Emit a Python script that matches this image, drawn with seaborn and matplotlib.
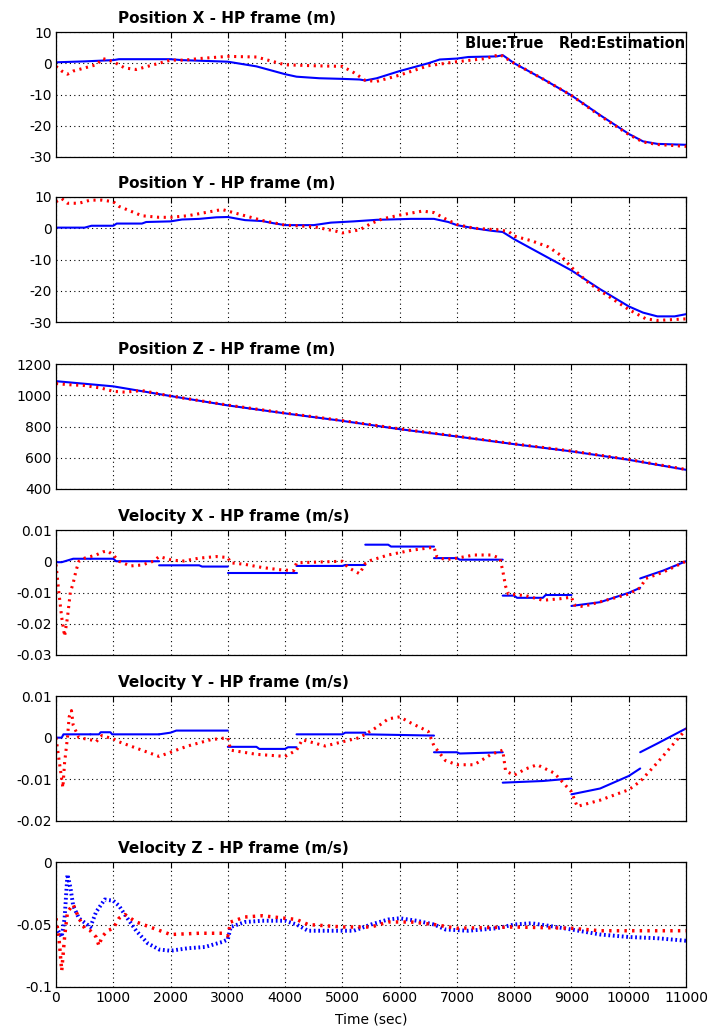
import numpy as np
import pandas as pd
import matplotlib
matplotlib.use("Agg")
import matplotlib.pyplot as plt
import seaborn as sns

# ---------------- data ----------------
TIME_TICKS = [0, 1000, 2000, 3000, 4000, 5000, 6000, 7000, 8000, 9000, 10000, 11000]
TITLES = ["Position X - HP frame (m)", "Position Y - HP frame (m)", "Position Z - HP frame (m)",
          "Velocity X - HP frame (m/s)", "Velocity Y - HP frame (m/s)", "Velocity Z - HP frame (m/s)"]
LEGEND_TEXT = "Blue:True   Red:Estimation"
X_LABEL = "Time (sec)"

Y_TICKS = [[-30, -20, -10, 0, 10], [-30, -20, -10, 0, 10], [400, 600, 800, 1000, 1200],
           [-0.03, -0.02, -0.01, 0, 0.01], [-0.02, -0.01, 0, 0.01], [-0.1, -0.05, 0]]
Y_TICK_LABELS = [["-30", "-20", "-10", "0", "10"], ["-30", "-20", "-10", "0", "10"],
                 ["400", "600", "800", "1000", "1200"],
                 ["-0.03", "-0.02", "-0.01", "0", "0.01"], ["-0.02", "-0.01", "0", "0.01"],
                 ["-0.1", "-0.05", "0"]]

# Position X
PX_T_TRUE = [0, 500, 1000, 1100, 2000, 2200, 3000, 3500, 4000, 4200, 4600, 5000, 5300, 5400, 5600, 6000,
             6500, 6700, 7000, 7200, 7700, 7800, 8000, 8500, 9000, 9500, 10000, 10250, 10500, 11000]
PX_TRUE = [0.3, 0.6, 1.0, 1.3, 1.3, 1.0, 0.5, -1.0, -3.5, -4.3, -4.8, -5.0, -5.2, -5.5, -4.8, -2.5,
           0.0, 1.2, 1.5, 2.0, 2.2, 2.6, 0.0, -5.0, -10.3, -16.6, -22.6, -25.0, -25.8, -26.1]
PX_T_EST = [0, 100, 200, 300, 500, 700, 820, 1000, 1200, 1400, 1600, 1800, 2000, 2250, 2500, 3000, 3500,
            3700, 4000, 4500, 5000, 5200, 5400, 5600, 6000, 6500, 7000, 7500, 7750, 8000, 8500, 9000,
            9500, 10000, 10250, 10500, 11000]
PX_EST = [-1.0, -2.5, -3.5, -2.5, -1.5, -0.5, 1.5, 0.5, -1.5, -2.0, -1.0, 0.0, 1.0, 1.0, 1.5, 2.2, 2.0,
          1.0, -0.5, -0.8, -1.0, -3.0, -5.5, -5.8, -3.8, -0.8, 0.5, 1.5, 2.8, 0.0, -5.0, -10.3,
          -16.8, -22.8, -25.2, -26.0, -26.6]

# Position Y
PY_T_TRUE = [0, 500, 620, 1000, 1060, 1500, 1575, 2000, 2200, 2500, 2800, 3000, 3300, 3600, 3800, 4000,
             4500, 4800, 5200, 5600, 6200, 6600, 6850, 7000, 7300, 7600, 7800, 8000, 8500, 9000, 9500,
             10000, 10250, 10500, 10800, 11000]
PY_TRUE = [0.2, 0.2, 0.8, 0.8, 1.5, 1.5, 2.0, 2.2, 2.8, 3.0, 3.5, 3.6, 2.6, 2.3, 1.6, 1.0,
           1.0, 1.8, 2.2, 2.7, 3.0, 3.0, 2.0, 1.0, 0.0, -0.8, -1.2, -3.5, -8.5, -13.5, -19.5,
           -25.0, -27.0, -28.2, -28.2, -27.5]
PY_T_EST = [0, 100, 200, 400, 600, 800, 1000, 1100, 1300, 1500, 1800, 2000, 2300, 2600, 2900, 3000,
            3300, 3600, 4000, 4500, 4900, 5000, 5300, 5500, 5700, 6000, 6400, 6600, 6800, 7000, 7300,
            7700, 7900, 8000, 8300, 8600, 8800, 9000, 9300, 9500, 10000, 10300, 10500, 11000]
PY_EST = [8.5, 9.5, 8.0, 8.0, 9.0, 9.0, 8.5, 7.0, 5.5, 4.0, 3.5, 3.5, 4.0, 5.0, 6.0, 5.5,
          4.0, 2.5, 1.0, 0.5, -1.0, -1.5, -0.5, 1.5, 3.0, 4.2, 5.5, 5.0, 3.0, 1.2, 0.0,
          -0.5, -1.0, -2.5, -4.0, -6.0, -8.5, -12.5, -17.5, -20.0, -26.0, -29.0, -29.5, -29.0]

# Position Z
PZ_T_TRUE = [0, 1000, 2000, 3000, 4000, 5000, 6000, 7000, 8000, 9000, 10000, 11000]
PZ_TRUE = [1090, 1057, 995, 935, 884, 836, 783, 736, 687, 641, 587, 523]
PZ_T_EST = [0, 200, 500, 800, 1000, 1200, 1500, 2000, 3000, 4000, 5000, 6000, 7000, 8000, 9000,
            10000, 11000]
PZ_EST = [1075, 1068, 1062, 1045, 1025, 1020, 1030, 995, 937, 886, 838, 785, 738, 689, 643, 589, 525]

# Velocity X (true: piecewise segments, seg id per point)
VX_SEG = [0, 0, 0, 0, 1, 1, 1, 1, 2, 2, 2, 2, 3, 3, 4, 4, 4, 4, 5, 5, 5, 5, 6, 6, 6, 6,
          7, 7, 7, 7, 7, 7, 8, 8, 8, 8, 9, 9, 9]
VX_T_TRUE = [0, 100, 300, 600, 600, 1000, 1050, 1800, 1800, 2500, 2550, 3000, 3000, 4200,
             4200, 5000, 5050, 5400, 5400, 5800, 5850, 6600, 6600, 7000, 7050, 7800,
             7800, 8000, 8050, 8500, 8550, 9000, 9000, 9500, 10000, 10200, 10200, 10600, 11000]
VX_TRUE = [-0.0003, -0.0003, 0.0008, 0.0008, 0.0008, 0.0008, 0.0, 0.0, -0.0013, -0.0013, -0.0017,
           -0.0017, -0.0038, -0.0038, -0.0015, -0.0015, -0.0012, -0.0012, 0.0053, 0.0053, 0.0047,
           0.0047, 0.0010, 0.0010, 0.0005, 0.0005, -0.0110, -0.0110, -0.0117, -0.0117, -0.0108,
           -0.0108, -0.0143, -0.0131, -0.0101, -0.0085, -0.0055, -0.0030, 0.0]
VX_T_EST = [0, 50, 100, 150, 200, 250, 300, 350, 400, 500, 700, 820, 900, 1000, 1100, 1300, 1500, 1700,
            1800, 2000, 2200, 2500, 2800, 3000, 3050, 3300, 3600, 3900, 4150, 4200, 4500, 5000, 5100,
            5300, 5400, 5500, 5800, 6200, 6600, 6650, 6800, 7000, 7300, 7600, 7750, 7800, 7850, 7900,
            8200, 8500, 8800, 9000, 9050, 9200, 9500, 10000, 10200, 10300, 10600, 11000]
VX_EST = [-0.001, -0.010, -0.018, -0.024, -0.018, -0.010, -0.007, -0.003, 0.0, 0.001, 0.002, 0.003,
          0.0033, 0.002, 0.0, -0.0015, -0.0012, 0.0, 0.0015, 0.0005, 0.0, 0.001, 0.0015, 0.0012,
          -0.0005, -0.001, -0.002, -0.0027, -0.003, -0.0005, -0.0003, 0.0, -0.002, -0.004, -0.0007,
          0.0003, 0.002, 0.0035, 0.0045, 0.0015, 0.0005, 0.001, 0.002, 0.002, 0.001, -0.003, -0.008,
          -0.0105, -0.011, -0.0125, -0.012, -0.0115, -0.014, -0.0145, -0.013, -0.0105, -0.0085,
          -0.0055, -0.0035, 0.0]

# Velocity Y
VY_SEG = [0, 0, 0, 0, 1, 1, 1, 1, 1, 1, 2, 2, 2, 2, 3, 3, 3, 3, 3, 3, 4, 4, 4, 4, 5, 5,
          6, 6, 6, 6, 7, 7, 7, 8, 8, 8, 8, 9, 9, 9]
VY_T_TRUE = [0, 100, 130, 600, 600, 750, 780, 950, 980, 1800, 1800, 2000, 2100, 3000,
             3000, 3500, 3550, 4000, 4050, 4200, 4200, 5000, 5050, 5400, 5400, 6600,
             6600, 7000, 7050, 7800, 7800, 8500, 9000, 9000, 9500, 10000, 10200, 10200, 10500, 11000]
VY_TRUE = [0.0, 0.0, 0.0008, 0.0008, 0.0008, 0.0008, 0.0013, 0.0013, 0.0008, 0.0008, 0.0008, 0.0012,
           0.0017, 0.0017, -0.0022, -0.0022, -0.0027, -0.0027, -0.0023, -0.0023, 0.0008, 0.0008,
           0.0012, 0.0012, 0.0008, 0.0005, -0.0035, -0.0035, -0.0038, -0.0035, -0.0108, -0.0104,
           -0.0098, -0.0136, -0.0122, -0.0092, -0.0074, -0.0035, -0.0014, 0.0022]
VY_T_EST = [0, 50, 100, 120, 150, 200, 230, 270, 300, 400, 600, 700, 800, 1000, 1100, 1500, 1800, 2000,
            2300, 2700, 3000, 3050, 3500, 4000, 4200, 4300, 4700, 5000, 5300, 5600, 5800, 6000, 6200,
            6500, 6600, 6800, 7000, 7300, 7600, 7800, 7850, 8000, 8200, 8400, 8700, 9000, 9100, 9500,
            10000, 10200, 10500, 11000]
VY_EST = [0.0, -0.005, -0.010, -0.012, -0.006, 0.0, 0.005, 0.0065, 0.003, 0.0, -0.0005, -0.001, 0.0005,
          -0.0003, -0.001, -0.003, -0.0045, -0.0035, -0.002, -0.0005, 0.0, -0.003, -0.004, -0.0045,
          -0.003, -0.0005, -0.002, -0.001, 0.0, 0.0025, 0.0045, 0.005, 0.0035, 0.0015, -0.002,
          -0.0055, -0.0065, -0.0065, -0.004, -0.003, -0.008, -0.009, -0.0075, -0.0065, -0.0085,
          -0.013, -0.0165, -0.015, -0.0125, -0.0105, -0.006, 0.002]

# Velocity Z
VZ_T_TRUE = [0, 100, 150, 200, 250, 300, 400, 600, 700, 850, 1000, 1100, 1200, 1400, 1600, 1800, 2000,
             2300, 2600, 2900, 3000, 3050, 3300, 3600, 4000, 4200, 4400, 4800, 5200, 5500, 5800, 6000,
             6300, 6600, 6800, 7200, 7700, 8000, 8300, 8600, 9000, 9500, 10000, 10500, 11000]
VZ_TRUE = [-0.052, -0.060, -0.045, -0.010, -0.020, -0.035, -0.045, -0.052, -0.040, -0.030, -0.031,
           -0.035, -0.042, -0.055, -0.065, -0.070, -0.071, -0.069, -0.068, -0.064, -0.062, -0.052,
           -0.048, -0.047, -0.047, -0.050, -0.055, -0.055, -0.055, -0.050, -0.046, -0.045, -0.047,
           -0.050, -0.054, -0.055, -0.053, -0.050, -0.049, -0.051, -0.054, -0.058, -0.060, -0.061,
           -0.063]
VZ_T_EST = [0, 50, 100, 150, 200, 300, 400, 500, 600, 700, 750, 800, 900, 1000, 1100, 1200, 1400, 1700,
            2000, 2500, 2900, 3000, 3050, 3300, 3600, 4000, 4200, 4400, 5000, 5500, 5800, 6200, 6600,
            7000, 8000, 9000, 9500, 10000, 10500, 11000]
VZ_EST = [-0.045, -0.060, -0.087, -0.060, -0.040, -0.034, -0.045, -0.053, -0.055, -0.060, -0.067,
          -0.060, -0.055, -0.053, -0.045, -0.042, -0.048, -0.053, -0.058, -0.057, -0.057, -0.059,
          -0.048, -0.044, -0.043, -0.045, -0.046, -0.050, -0.052, -0.052, -0.048, -0.048, -0.050,
          -0.053, -0.052, -0.053, -0.055, -0.055, -0.055, -0.055]

# ---------------- style ----------------
sns.set_theme(style="white")
plt.rcParams["font.family"] = ["DejaVu Sans"]
plt.rcParams["axes.unicode_minus"] = False
plt.rcParams["text.color"] = "black"
plt.rcParams["axes.labelcolor"] = "black"
plt.rcParams["xtick.color"] = "black"
plt.rcParams["ytick.color"] = "black"

BLUE = "#0000FF"
RED = "#FF0000"

fig = plt.figure(figsize=(7.12, 10.30), dpi=100)
W, H = 712.0, 1030.0
AX_LEFT, AX_RIGHT = 56, 686
AX_TOPS = [32, 197, 364, 530, 696, 862]
AX_H = 125


def draw_true(ax, t, v, seg=None, lw=1.5, ls="-"):
    if seg is None:
        seg = [0] * len(t)
    df = pd.DataFrame({"t": t, "v": v, "seg": seg})
    sns.lineplot(data=df, x="t", y="v", units="seg", estimator=None, sort=False,
                 color=BLUE, linewidth=lw, linestyle=ls, dash_capstyle="butt",
                 ax=ax, legend=False)


def draw_est(ax, t, v, lw=2.2):
    df = pd.DataFrame({"t": t, "v": v})
    sns.lineplot(data=df, x="t", y="v", estimator=None, sort=False, color=RED,
                 linewidth=lw, linestyle=(0, (0.7, 1.5)), dash_capstyle="butt",
                 ax=ax, legend=False)


series = [
    (PX_T_TRUE, PX_TRUE, None, PX_T_EST, PX_EST),
    (PY_T_TRUE, PY_TRUE, None, PY_T_EST, PY_EST),
    (PZ_T_TRUE, PZ_TRUE, None, PZ_T_EST, PZ_EST),
    (VX_T_TRUE, VX_TRUE, VX_SEG, VX_T_EST, VX_EST),
    (VY_T_TRUE, VY_TRUE, VY_SEG, VY_T_EST, VY_EST),
    (VZ_T_TRUE, VZ_TRUE, None, VZ_T_EST, VZ_EST),
]

for i, (tt, vt, sg, te, ve) in enumerate(series):
    top = AX_TOPS[i]
    ax = fig.add_axes([AX_LEFT / W, 1 - (top + AX_H) / H, (AX_RIGHT - AX_LEFT) / W, AX_H / H])
    ax.set_facecolor("white")
    if i == 5:
        draw_true(ax, tt, vt, sg, lw=2.8, ls=(0, (0.45, 0.7)))
        draw_est(ax, te, ve, lw=2.5)
    else:
        draw_true(ax, tt, vt, sg)
        draw_est(ax, te, ve)

    ax.set_xlim(0, 11000)
    yt = Y_TICKS[i]
    ax.set_ylim(yt[0], yt[-1])
    ax.set_yticks(yt)
    ax.set_yticklabels(Y_TICK_LABELS[i])
    ax.set_xticks(TIME_TICKS)
    if i == 5:
        ax.set_xticklabels([str(v) for v in TIME_TICKS])
        ax.set_xlabel(X_LABEL, fontsize=10, labelpad=5, color="black")
    else:
        ax.set_xticklabels([])
        ax.set_xlabel("")
    ax.set_ylabel("")
    ax.grid(True, color="black", linestyle=(0, (1, 3)), linewidth=0.8)
    for sp in ax.spines.values():
        sp.set_color("black")
        sp.set_linewidth(0.9)
        sp.set_visible(True)
    ax.tick_params(direction="in", length=4, width=0.8, top=True, right=True,
                   labelsize=10, colors="black", labelcolor="black", pad=3)
    ax.text((118 - AX_LEFT) / (AX_RIGHT - AX_LEFT), 1 + 14 / AX_H, TITLES[i],
            transform=ax.transAxes, ha="left", va="center", fontsize=11,
            fontweight="bold", color="black")
    if i == 0:
        ax.text(0.998, 1 - 11 / AX_H, LEGEND_TEXT, transform=ax.transAxes, ha="right",
                va="center", fontsize=10.5, fontweight="bold", color="black")

fig.savefig("out.png", dpi=100, facecolor="white")
